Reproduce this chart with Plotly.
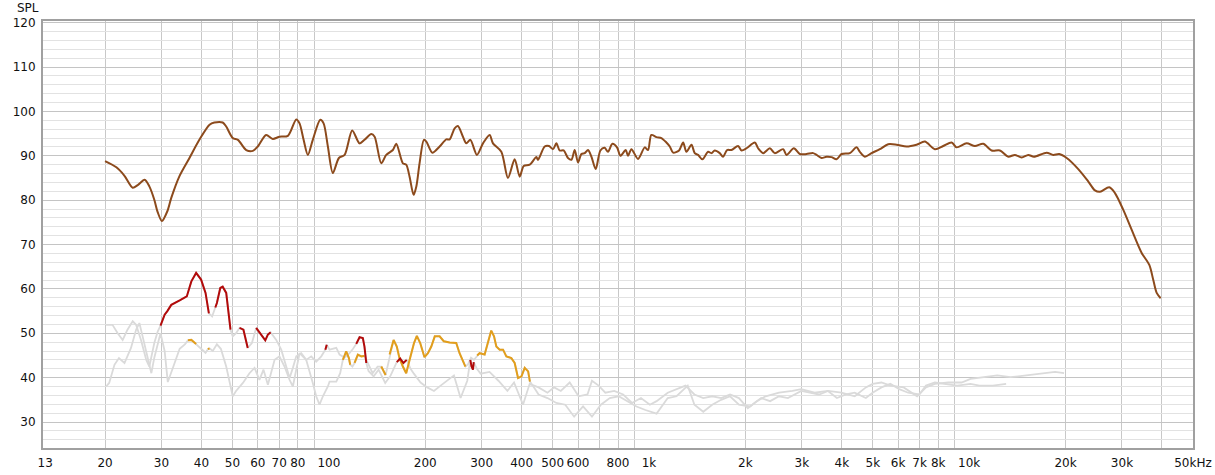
import math
import plotly.graph_objects as go

# ---------------- data ----------------
spl_freq = [20.0, 21.7, 23.0, 24.4, 25.3, 26.6, 27.5, 28.5, 29.2, 30.1, 31.3, 32.2, 34.1, 36.7, 39.4, 42.4, 43.9, 46.6, 47.8,
            50.1, 52.0, 55.2, 57.9, 60.0, 63.7, 66.8, 70.1, 74.5, 79.1, 81.0, 83.4, 86.0, 89.1, 94.0, 96.3, 99.3, 102.9,
            107.5, 112.0, 118.3, 124.7, 129.2, 135.7, 139.0, 145.8, 151.1, 158.5, 162.4, 170.3, 174.4, 178.7, 183.9,
            187.6, 192, 198.1, 201.6, 210.4, 221.8, 232.7, 238.4, 247.1, 253, 262.3, 268.8, 276.6, 290.1, 302.9, 317.8,
            325.5, 345.7, 362.6, 380.5, 394.5, 406, 423.9, 444.8, 450, 472.2, 486.9, 501.2, 513.6, 525.9, 541.3, 558.4,
            572.2, 586, 600.1, 615, 629.7, 644.9, 660.7, 681.5, 704.9, 727, 744.4, 768.4, 794.3, 814, 845.7, 859.9, 881,
            924, 969.6, 993, 1017, 1055, 1093, 1133, 1161, 1189, 1241, 1278, 1309, 1357, 1389, 1423, 1469, 1529, 1567,
            1604, 1663, 1703, 1753, 1809, 1897, 1945, 2016, 2140, 2191, 2272, 2384, 2470, 2623, 2688, 2833, 2958, 3104,
            3255, 3336, 3457, 3584, 3715, 3851, 3994, 4239, 4448, 4555, 4722, 4955, 5259, 5584, 5932, 6374, 6848, 7270,
            7813, 8295, 8810, 9134, 9814, 10420, 11060, 11750, 12470, 13240, 13890, 14580, 15290, 15930, 17450, 18300,
            19110, 20160, 21910, 23550, 24710, 25620, 27380, 28530, 30290, 32180, 34570, 36520, 37580, 38510, 39630]
spl_db = [88.8, 87.4, 85.5, 82.8, 83.4, 84.6, 83.1, 80.1, 77.3, 75.3, 77.5, 80.5, 85.3, 89.5, 93.6, 97.0, 97.5, 97.5, 96.6,
          94.0, 93.6, 91.3, 91.1, 92.1, 94.7, 93.8, 94.3, 94.5, 98.2, 97.3, 93.6, 90.2, 93.6, 98.1, 97.3, 92.1, 86.1,
          89.5, 90.2, 95.7, 92.8, 93.6, 94.9, 94.3, 88.3, 90.2, 91.3, 92.7, 88.3, 88.0, 85.3, 81.2,
          83.1, 88.3, 93.6, 93.2, 90.7, 92.1, 93.7, 93.7, 96.2, 96.7, 94.3, 92.8, 93.6, 90.2, 92.8, 94.7,
          92.8, 90.9, 85.0, 89.2, 85.3, 87.7, 88.0, 89.7, 89.1, 92.1, 92.2, 91.5, 92.8, 91.2, 91.2, 89.5,
          89.1, 91.3, 88.5, 90.4, 90.6, 91.3, 89.8, 87.0, 91.2, 91.8, 90.9, 92.7, 91.9, 90.0, 91.3, 90.0, 91.5,
          89.3, 91.9, 91.3, 94.7, 94.2, 94.0, 93.0, 92.1, 90.7, 91.2, 93.0, 90.9, 92.5, 90.6, 90.2, 89.2, 90.9, 90.6,
          91.2, 90.6, 89.8, 91.3, 91.3, 92.2, 91.2, 91.7, 93.0, 91.7, 90.6, 91.7, 90.6, 91.5, 90.2, 91.7, 90.4, 90.4,
          90.6, 90.2, 89.5, 89.8, 89.7, 89.2, 90.4, 90.6, 91.9, 90.9, 89.8, 90.6, 91.5, 92.6, 92.5, 92.1, 92.5, 93.2,
          91.5, 92.2, 93.0, 91.9, 92.8, 92.2, 92.7, 91.2, 91.2, 89.8, 90.2, 89.6, 90.2, 89.8, 90.7, 90.2,
          90.4, 89.5, 87.0, 84.2, 82.2, 81.9, 82.9, 81.6, 77.8, 73.3, 68.1, 65.4, 62.0, 59.1, 57.9]

h2_freq = [20.15, 21.1, 21.9, 22.7, 23.5, 24.4, 25.0, 25.9, 26.9, 27.5, 28.5, 29.2, 29.8, 30.7, 31.3, 32.2, 34.2, 36.0,
           37.2, 38.5, 39.9, 41.2, 42.2, 43.2, 44.2, 44.7, 45.8, 46.6, 47.8, 48.7, 49.3, 50.1, 51.3, 52.6, 54.1, 55.8,
           57.5, 59.3, 61.0, 63.3, 64.5, 65.8, 68.5, 71.0, 73.6, 75.4, 77.2, 79.1, 82.0, 85.0, 88.1, 91.3, 94.7, 97.5,
           98.5, 100.5, 105.5, 108.0, 112.0, 116.0, 119.0, 121.8, 124.7, 127.7, 129.2, 130.9, 133, 138, 143, 150, 156,
           163, 167, 171, 175, 180, 184.3, 193.4, 202.9, 212.9, 223.4, 234.3, 245.9, 257.9, 270.6, 276.6, 279, 281.9,
           283.5, 290, 297.9, 317.6, 338.6, 361.1, 378.8, 404, 423.8, 451.8, 481.7, 505.4, 530.2, 565.3, 602.6, 642.4,
           663.4, 696, 730.3, 778.6, 830.2, 885.1, 943.6, 1006, 1056, 1144, 1219, 1300, 1386, 1477, 1575, 1680, 1791,
           1909, 2035, 2170, 2313, 2547, 2804, 2989, 3291, 3622, 3988, 4390, 4755, 4991, 5320, 5672, 6243, 6875, 7328,
           7813, 8601, 9467, 10094, 11112, 12233, 13467, 14826, 16853, 18548, 19781]
h2_db = [51.9, 51.9, 50.0, 48.5, 50.8, 52.7, 51.9, 48.5, 44.0, 42.5, 47.8, 50.4, 51.7, 54.2, 55.0, 56.4, 57.4, 58.3,
         61.7, 63.6, 62.1, 59.1, 54.5, 53.8, 55.8, 56.8, 60.2, 60.5, 59.1, 54.5, 50.8, 49.3, 50.0, 51.2, 50.8, 46.7,
         47.8, 51.2, 50.0, 48.4, 49.7, 50.2, 48.5, 46.3, 42.5, 39.9, 42.2, 44.8, 45.5, 44.0, 44.8, 43.6, 44.8, 46.3,
         47.4, 46.3, 46.7, 45.2, 44.5, 45.5, 46.5, 47.6, 49.1, 48.9, 47.0, 43.3, 41.5, 40.3, 41.8, 38.8, 40.5,
         43.5, 44.3, 43.3, 44.0, 42.0, 40.9, 38.9, 37.8, 37.0, 38.2, 39.3, 40.5, 35.4, 39.3, 44.0, 42.5, 41.8,
         43.5, 42.0, 40.9, 41.3, 39.3, 37.0, 38.9, 33.9, 38.6, 37.8, 36.6, 37.8, 37.0, 38.9, 35.8, 36.2,
         39.3, 38.2, 36.6, 37.0, 36.2, 34.3, 35.4, 33.9, 34.7, 36.6, 37.4, 38.2, 36.2, 35.4, 35.8, 35.4, 36.2,
         35.4, 33.1, 34.7, 35.8, 36.6, 37.0, 37.4, 36.6, 37.0, 36.6, 35.8, 37.8, 38.6, 38.9, 38.2, 37.8, 35.8, 37.8,
         38.6, 38.9, 38.9, 39.7, 40.1, 40.5, 40.1, 40.5, 41.0, 41.3, 41.0]
h2_highlight = [(29.7, 31.35), (32.1, 42.3), (44.1, 49.4), (52.5, 55.9), (59.2, 63.4), (64.4, 65.9), (97.4, 98.6),
                (121.7, 131.0), (162.5, 175.5), (276.0, 284.0)]

h3_freq = [20.15, 20.6, 21.4, 22.1, 23.0, 24.1, 25.0, 25.6, 26.2, 27.2, 27.9, 28.5, 29.8, 30.7, 31.4, 32.5, 34.2, 35.5,
           36.3, 37.2, 38.5, 39.9, 41.2, 41.9, 42.4, 43.4, 44.7, 46.0, 47.8, 49.3, 50.1, 51.3, 53.9, 56.5, 58.6, 60.7,
           62.5, 64.5, 67.7, 70.1, 72.7, 75.4, 77.2, 81.0, 85.0, 89.1, 91.3, 93.5, 95.8, 99.3, 100.5, 105.5, 108.5,
           110.6, 113.3, 115.5, 116.6, 118.5, 120.3, 123.2, 126.3, 129.2, 132, 137, 142, 145.8, 150.4, 152.5, 154.8,
           159.3, 163.0, 166.2, 170.3, 174.4, 178.7, 184.5, 188.3, 192.9, 198.9, 203.9, 208.9, 214.2, 221.8, 228.5,
           238.4, 250.0, 256.0, 262.3, 267.0, 272, 278, 284, 290.5, 295.6, 306.6, 314.0, 321.5, 328.0, 333.5, 341.6,
           350.0, 358.4, 371.5, 380.5, 389.9, 399.6, 409.0, 419.2, 424.6, 440, 451.8, 481.7, 513.5, 547.5, 583.6,
           622.2, 663.4, 707.3, 754.1, 803.9, 857.3, 913.9, 974.3, 1056, 1144, 1219, 1321, 1386, 1477, 1575, 1680,
           1791, 1909, 2068, 2240, 2389, 2547, 2715, 2989, 3187, 3398, 3622, 3862, 4117, 4390, 4755, 4991, 5320,
           5672, 6047, 6447, 6985, 7328, 7813, 8329, 9170, 10094, 10762, 11847, 13042]
h3_db = [38.0, 38.8, 42.9, 44.4, 43.3, 46.7, 50.8, 52.3, 49.3, 44.0, 41.0, 44.5, 50.0, 46.0, 39.0, 42.0, 46.5, 47.5,
         48.4, 48.5, 47.6, 46.5, 45.6, 46.4, 46.6, 46.0, 47.5, 46.5, 42.5, 38.5, 35.8, 37.0, 38.8, 41.0, 42.2, 39.5,
         41.8, 38.4, 44.0, 44.8, 42.5, 39.5, 38.0, 45.5, 44.0, 38.8, 35.8, 33.9, 35.8, 38.0, 39.1, 39.1, 41.0,
         44.0, 45.9, 44.4, 42.9, 42.5, 43.3, 45.2, 44.8, 44.9, 43.5, 41.0, 42.5, 42.5, 40.6, 42.5, 45.2,
         48.5, 47.0, 44.4, 42.5, 41.0, 44.0, 47.8, 49.4, 47.8, 44.6, 45.5, 47.0, 49.3, 49.3, 48.2,
         47.9, 47.8, 45.5, 43.6, 42.5, 43.0, 44.5, 44.0, 45.0, 45.5, 45.2, 47.8, 50.6, 49.3, 47.0, 46.3,
         46.3, 44.8, 44.4, 43.3, 39.9, 40.3, 42.2, 41.4, 39.1, 37.5, 36.2, 35.4, 34.3, 33.9, 31.2,
         33.5, 31.2, 33.9, 35.4, 35.8, 34.7, 33.5, 32.7, 31.9, 35.4, 35.8, 38.2, 33.9, 32.3, 33.9, 35.0,
         35.8, 33.9, 33.5, 35.4, 34.7, 35.8, 35.4, 37.0, 36.6, 36.2, 37.0, 35.4, 36.2, 36.6, 35.4, 36.6, 37.8,
         38.6, 37.4, 36.6, 36.2, 38.2, 38.9, 38.6, 38.2, 38.6, 38.2, 38.2, 38.6]
h3_highlight = [(36.2, 38.6), (41.8, 42.5), (110.5, 116.7), (120.2, 129.3), (145.7, 150.5), (154.7, 267.1),
                (290.4, 424.7)]

x_tick_vals = [13, 20, 30, 40, 50, 60, 70, 80, 100, 200, 300, 400, 500, 600, 800, 1000, 2000, 3000, 4000, 5000,
               6000, 7000, 8000, 10000, 20000, 30000, 50000]
x_tick_text = ["13", "20", "30", "40", "50", "60", "70", "80", "100", "200", "300", "400", "500", "600", "800", "1k",
               "2k", "3k", "4k", "5k", "6k", "7k", "8k", "10k", "20k", "30k", "50kHz"]
x_grid_vals = [20, 30, 40, 50, 60, 70, 80, 90, 200, 300, 400, 500, 600, 700, 800, 900, 2000, 3000, 4000, 5000, 6000,
               7000, 8000, 9000, 20000, 30000, 40000]
x_decades = [100, 1000, 10000]
y_tick_vals = [30, 40, 50, 60, 70, 80, 90, 100, 110, 120]


def highlight(freqs, vals, ranges):
    return [v if any(a <= f <= b for a, b in ranges) else None for f, v in zip(freqs, vals)]


GRAY = "rgb(218,218,218)"
fig = go.Figure()
fig.add_trace(go.Scatter(x=h2_freq, y=h2_db, mode="lines", line=dict(color=GRAY, width=1.8), hoverinfo="skip"))
fig.add_trace(go.Scatter(x=h3_freq, y=h3_db, mode="lines", line=dict(color=GRAY, width=1.8), hoverinfo="skip"))
fig.add_trace(go.Scatter(x=h3_freq, y=highlight(h3_freq, h3_db, h3_highlight), mode="lines",
                         line=dict(color="rgb(226,158,28)", width=2), connectgaps=False, hoverinfo="skip"))
fig.add_trace(go.Scatter(x=h2_freq, y=highlight(h2_freq, h2_db, h2_highlight), mode="lines",
                         line=dict(color="rgb(178,10,10)", width=2), connectgaps=False, hoverinfo="skip"))
fig.add_trace(go.Scatter(x=spl_freq, y=spl_db, mode="lines",
                         line=dict(color="rgb(140,74,28)", width=2, shape="spline", smoothing=0.8), hoverinfo="skip"))

for d in x_decades:
    fig.add_shape(type="line", xref="x", yref="paper", x0=math.log10(d), x1=math.log10(d), y0=0, y1=1,
                  line=dict(color="rgb(128,128,128)", width=1), layer="below")

fig.add_annotation(text="SPL", xref="paper", yref="paper", x=0, y=1, xanchor="right", yanchor="bottom",
                   xshift=-2, yshift=4, showarrow=False, font=dict(family="DejaVu Sans", size=12, color="#111111"))

fig.update_layout(
    width=1215, height=475,
    margin=dict(l=43, r=22, t=21, b=27, autoexpand=False),
    paper_bgcolor="white", plot_bgcolor="white",
    showlegend=False,
    font=dict(family="DejaVu Sans", size=12, color="#111111"),
    xaxis=dict(type="log", range=[math.log10(12.8), math.log10(50000)], automargin=False,
               tickmode="array", tickvals=x_tick_vals, ticktext=x_tick_text,
               showgrid=False, zeroline=False, ticks="outside", ticklen=3, tickcolor="rgba(0,0,0,0)",
               showline=True, mirror=True, linecolor="rgb(160,160,160)", linewidth=2,
               minor=dict(tickmode="array", tickvals=x_grid_vals, showgrid=True,
                          gridcolor="rgb(200,200,200)", gridwidth=1, ticklen=0)),
    yaxis=dict(range=[24.14, 120.38], tickmode="array", tickvals=y_tick_vals, automargin=False,
               showgrid=True, gridcolor="rgb(196,196,196)", gridwidth=1, zeroline=False,
               ticks="outside", ticklen=3, tickcolor="rgba(0,0,0,0)",
               showline=True, mirror=True, linecolor="rgb(160,160,160)", linewidth=2,
               minor=dict(dtick=2, showgrid=True, gridcolor="rgb(226,226,226)", gridwidth=1, ticklen=0)),
)

fig.write_html("out.html", config={"displayModeBar": False},
               post_script="document.body.style.margin='0';document.body.style.overflow='hidden';")
